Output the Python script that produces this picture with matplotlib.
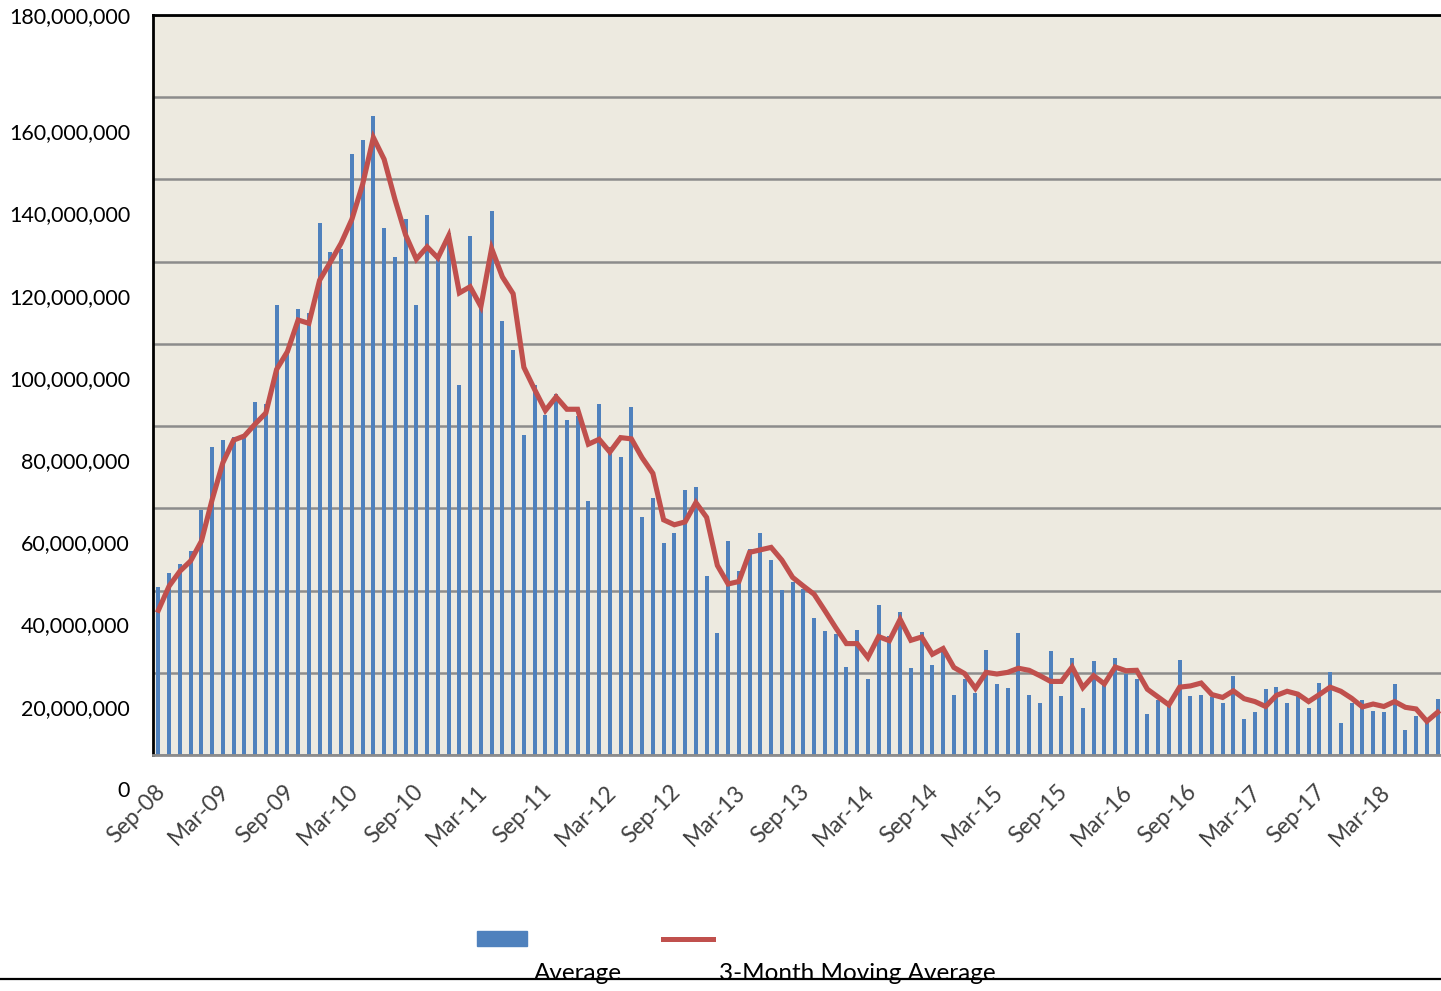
import matplotlib
matplotlib.use("Agg")
import matplotlib.pyplot as plt
import matplotlib.transforms as mtransforms
from matplotlib.patches import Rectangle
from matplotlib.lines import Line2D
import numpy as np
import pandas as pd

plt.rcParams['font.family'] = ['Lato', 'DejaVu Sans']

# 月份类别 (Sep-08 .. Aug-18)
months = pd.date_range('2008-09-01', periods=120, freq='MS').strftime('%b-%y').tolist()

# 月度平均值 (百万)
average = [
    40.9, 44.2, 46.5, 49.6, 59.7, 74.8, 76.6, 77.4, 77.4, 85.8,
    85.3, 109.5, 98.1, 108.6, 107.6, 129.4, 122.4, 123.1, 146.1, 149.7,
    155.5, 128.3, 121.2, 130.4, 109.5, 131.4, 120.4, 127.0, 89.9, 126.3,
    109.1, 132.4, 105.5, 98.5, 77.9, 90.1, 82.7, 87.9, 81.5, 82.5,
    61.7, 85.4, 75.0, 72.6, 84.7, 57.8, 62.4, 51.6, 54.0, 64.4,
    65.2, 43.5, 29.7, 52.0, 44.8, 50.0, 54.1, 47.5, 40.2, 42.2,
    40.5, 33.3, 30.2, 29.4, 21.3, 30.5, 18.6, 36.6, 29.0, 34.9,
    21.1, 29.8, 21.9, 25.3, 14.5, 18.6, 15.1, 25.5, 17.2, 16.4,
    29.6, 14.6, 12.6, 25.4, 14.4, 23.7, 11.4, 22.8, 17.5, 23.6,
    19.8, 18.5, 10.0, 13.4, 11.8, 23.2, 14.4, 14.7, 14.1, 12.6,
    19.1, 8.8, 10.4, 16.0, 16.5, 12.6, 14.3, 11.4, 17.5, 20.2,
    7.9, 12.6, 13.4, 10.8, 10.5, 17.3, 6.1, 9.6, 9.0, 13.7,
]

# 三个月移动平均 (百万)
moving_avg = [
    35.2, 41.1, 44.7, 47.2, 52.0, 62.1, 71.1, 76.6, 77.6, 80.5,
    83.2, 93.8, 98.1, 105.8, 105.0, 115.5, 119.9, 124.5, 130.3, 138.8,
    150.2, 144.9, 135.2, 126.5, 120.6, 123.6, 120.9, 126.3, 112.4, 113.9,
    109.1, 123.2, 116.3, 112.2, 94.3, 88.9, 83.8, 87.1, 84.1, 84.1,
    75.6, 76.8, 73.7, 77.2, 76.9, 72.3, 68.5, 57.2, 56.0, 56.7,
    61.4, 57.8, 46.1, 41.6, 42.2, 49.3, 49.9, 50.5, 47.4, 43.2,
    41.1, 39.1, 35.1, 31.0, 27.1, 27.1, 23.7, 28.8, 27.8, 33.0,
    27.9, 28.7, 24.5, 25.9, 21.3, 19.8, 16.2, 20.1, 19.7, 20.1,
    21.1, 20.6, 19.3, 17.9, 17.9, 21.4, 16.4, 19.3, 17.3, 21.4,
    20.5, 20.6, 16.0, 14.1, 12.2, 16.5, 16.8, 17.5, 14.7, 14.0,
    15.6, 13.7, 13.0, 11.8, 14.5, 15.5, 14.8, 13.0, 14.7, 16.5,
    15.5, 13.8, 11.7, 12.4, 11.8, 13.0, 11.6, 11.2, 8.2, 10.4,
]

y_ticks = list(range(0, 180_000_001, 20_000_000))

BLUE = '#4F81BD'
RED = '#C0504D'
BG = '#EDEAE0'
W, H = 1441, 991

fig = plt.figure(figsize=(W / 100, H / 100), dpi=100)
ax = fig.add_axes([153 / W, 1 - 755 / H, 1290 / W, 740 / H])
ax.set_facecolor(BG)

x = np.arange(len(months))
ax.bar(x, np.array(average) * 1e6, width=0.38, color=BLUE, zorder=2)
ax.plot(x, np.array(moving_avg) * 1e6, color=RED, lw=3.7, zorder=3,
        solid_joinstyle='miter')

ax.set_xlim(-0.5, len(months) - 0.5)
ax.set_ylim(0, 180_000_000)

# 网格线
ax.set_yticks(y_ticks)
ax.set_yticklabels([f'{v:,}' for v in y_ticks])
ax.yaxis.grid(True, color='#8C8C8C', lw=1.8, zorder=1)
ax.set_axisbelow(True)
ax.tick_params(axis='y', length=0, pad=16.5, labelsize=15.5, labelcolor='black')

# 标签向下偏移 (原图如此)
off = mtransforms.ScaledTranslation(0, -34 / 100, fig.dpi_scale_trans)
for t in ax.yaxis.get_major_ticks()[:-1]:
    t.label1.set_transform(t.label1.get_transform() + off)

# x 轴标签
ax.set_xticks(x[::6])
ax.set_xticklabels(months[::6], rotation=45, ha='right', va='center',
                   rotation_mode='anchor')
ax.tick_params(axis='x', length=0, pad=24, labelsize=16.5, labelcolor='#404040')
xoff = mtransforms.ScaledTranslation(3 / 100, 0, fig.dpi_scale_trans)
for t in ax.xaxis.get_major_ticks():
    t.label1.set_transform(t.label1.get_transform() + xoff)

for side in ['left', 'top']:
    ax.spines[side].set_color('black')
    ax.spines[side].set_linewidth(2)
ax.spines['bottom'].set_color('#8C8C8C')
ax.spines['bottom'].set_linewidth(2)
ax.spines['right'].set_visible(False)

# 图例
fig.add_artist(Rectangle((477 / W, 1 - 946 / H), 50 / W, 15 / H,
                         transform=fig.transFigure, color=BLUE))
fig.add_artist(Line2D([663 / W, 713 / W], [1 - 938.5 / H] * 2,
                      transform=fig.transFigure, color=RED, lw=3.6))
fig.text(578 / W, 1 - 980 / H, 'Average', ha='center', va='baseline',
         fontsize=17.5, color='black')
fig.text(857 / W, 1 - 980 / H, '3-Month Moving Average', ha='center',
         va='baseline', fontsize=17.5, color='black')
fig.add_artist(Line2D([0, 1], [1 - 978.5 / H] * 2, transform=fig.transFigure,
                      color='black', lw=1.6))

fig.savefig('out.png', dpi=100)
